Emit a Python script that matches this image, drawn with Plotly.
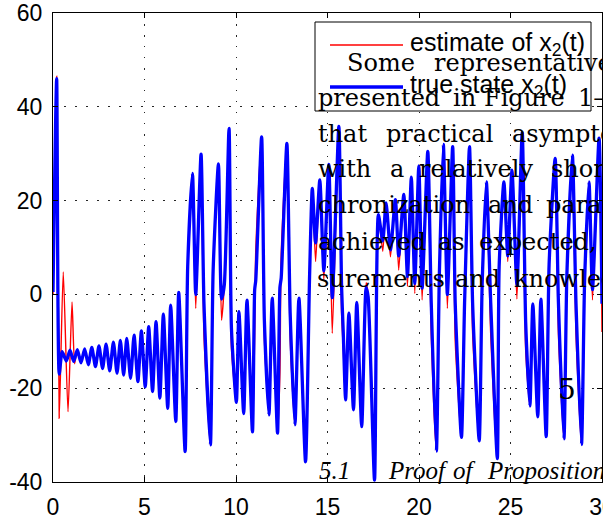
import plotly.graph_objects as go

# ---------------- data ----------------
blue_t = [0.00, 0.20, 0.34, 0.50, 0.73, 0.93, 1.13, 1.33, 1.53, 1.73, 1.93, 2.12, 2.32, 2.51, 2.71,
          2.90, 3.10, 3.30, 3.50, 3.68, 3.86, 4.03, 4.24, 4.43, 4.64, 4.83, 5.04, 5.23, 5.44, 5.63,
          5.84, 6.03, 6.27, 6.43, 6.71, 6.87, 7.22, 7.36, 7.62, 7.80, 8.09, 8.25, 8.60, 8.75, 9.04,
          9.21, 9.36, 9.62, 9.75, 10.02, 10.16, 10.42, 10.60, 10.90, 11.02, 11.08, 11.40, 11.55,
          11.80, 11.98, 12.27, 12.40, 12.47, 12.78, 12.96, 13.22, 13.44, 13.80, 14.02, 14.17, 14.35,
          14.58, 14.80, 15.07, 15.26, 15.62, 15.77, 15.86, 15.99, 16.17, 16.42, 16.60, 16.87, 17.11,
          17.22, 17.57, 17.78, 18.02, 18.20, 18.44, 18.71, 18.89, 19.17, 19.37, 19.58, 19.77, 19.99,
          20.17, 20.48, 20.67, 20.95, 21.11, 21.33, 21.55, 21.84, 21.98, 22.32, 22.49, 22.76, 22.93,
          23.29, 23.45, 23.68, 23.92, 24.28, 24.38, 24.64, 24.85, 25.08, 25.35, 25.64, 25.83, 26.06,
          26.22, 26.49, 26.66, 26.95, 27.11, 27.44, 27.62, 27.92, 28.08, 28.38, 28.58, 28.88, 29.05,
          29.29, 29.48, 29.84, 30.00]
blue_v = [0.5, 46.0, -17.0, -12.2, -14.2, -11.9, -14.3, -11.8, -14.6, -11.6, -15.0, -11.3, -15.4, -11.0, -15.8,
          -10.6, -16.3, -10.2, -16.8, -9.8, -17.2, -9.4, -17.9, -8.7, -18.6, -7.8, -19.7, -6.9, -20.7, -5.8,
          -22.1, -4.2, -24.3, -2.3, -27.1, 0.4, -33.5, 5.9, 25.8, 0.0, 29.9, -2.0, -32.1, 5.1, 27.8,
          -1.0, 2.0, 35.4, -7.2, -23.0, -3.7, -25.4, -1.2, -29.3, 1.0, 3.0, 33.6, -5.5,
          -25.7, -0.8, -29.6, 1.5, 3.5, 32.2, -4.0, -27.8, -0.8, -35.7, 3.8, 22.6, 11.0,
          24.4, 5.0, 27.7, -0.7, 35.8, 1.6, -8.0, -22.5, -4.0, -24.6, -1.7, -28.2, 1.5,
          -0.5, -39.6, 17.0, 11.4, 19.5, 9.5, 20.2, 8.2, 21.3, 3.8, 25.0, 2.3, 27.4,
          1.3, 30.5, -1.9, -33.4, 3.8, 32.0, 0.0, 31.5, -1.9, -30.5, -1.9, 31.5, -1.9,
          -31.2, 2.0, 24.0, -1.9, -35.0, 5.9, 24.0, 8.2, 26.5, 2.0, 34.5, -6.0, -23.8,
          -2.0, -26.1, -1.0, -30.3, 6.4, 29.0, -1.9, -30.8, 4.0, 29.7, -2.0, -32.0, 3.0,
          24.0, 1.0, 33.3, -2.0]

red_t = [0.00, 0.20, 0.34, 0.56, 0.82, 1.04, 1.18, 1.33, 1.53, 1.73, 1.93, 2.12, 2.32, 2.51, 2.71,
         2.90, 3.10, 3.30, 3.50, 3.68, 3.86, 4.03, 4.24, 4.43, 4.64, 4.83, 5.04, 5.23, 5.44, 5.63,
         5.84, 6.03, 6.27, 6.43, 6.71, 6.87, 7.22, 7.36, 7.62, 7.80, 8.09, 8.25, 8.60, 8.75, 9.04,
         9.21, 9.36, 9.62, 9.75, 10.02, 10.16, 10.42, 10.60, 10.90, 11.02, 11.08, 11.40, 11.55,
         11.80, 11.98, 12.27, 12.40, 12.47, 12.78, 12.96, 13.22, 13.44, 13.80, 14.02, 14.17, 14.35,
         14.58, 14.80, 15.07, 15.26, 15.62, 15.77, 15.86, 15.99, 16.17, 16.42, 16.60, 16.87, 17.11,
         17.22, 17.57, 17.78, 18.02, 18.20, 18.44, 18.71, 18.89, 19.17, 19.37, 19.58, 19.77, 19.99,
         20.17, 20.48, 20.67, 20.95, 21.11, 21.33, 21.55, 21.84, 21.98, 22.32, 22.49, 22.76, 22.93,
         23.29, 23.45, 23.68, 23.92, 24.28, 24.38, 24.64, 24.85, 25.08, 25.35, 25.64, 25.83, 26.06,
         26.22, 26.49, 26.66, 26.95, 27.11, 27.44, 27.62, 27.92, 28.08, 28.38, 28.58, 28.88, 29.05,
         29.29, 29.48, 29.84, 30.00]
red_v = [0.0, 46.5, -26.4, 4.8, -25.0, -1.6, -14.8, -11.8, -14.6, -11.6, -15.0, -11.3, -15.4, -11.0, -15.8,
         -10.6, -16.3, -10.2, -16.8, -9.8, -17.2, -9.4, -17.9, -8.7, -18.6, -7.8, -19.7, -6.9, -20.7, -5.8,
         -22.1, -4.2, -24.3, -2.3, -27.1, 0.4, -33.5, 5.9, 25.8, -3.0, 29.9, -8.9, -32.1, 5.1, 27.8,
         -5.5, 2.0, 35.4, -11.4, -23.0, -3.7, -25.4, -1.2, -29.3, -8.7, 9.4, 33.6, -9.5,
         -25.7, -0.8, -29.6, -16.8, 8.5, 32.2, -9.5, -27.8, -0.8, -35.7, 3.8, 22.6, 7.0,
         24.4, 3.0, 27.7, -8.3, 35.8, -4.0, -11.5, -22.5, -4.0, -24.6, -1.7, -28.2, 2.5,
         0.0, -39.6, 17.0, 9.2, 19.5, 8.0, 20.2, 5.2, 21.3, 1.7, 25.0, 0.2, 27.4,
         -1.2, 30.5, -8.7, -33.4, 3.8, 32.0, -3.0, 31.5, -10.0, -30.5, -1.9, 31.5, -8.3,
         -31.2, 2.0, 24.0, -8.7, -35.0, 5.9, 24.0, 7.0, 26.5, -1.0, 34.5, -12.0, -23.8,
         -2.0, -26.1, -1.0, -30.3, 6.4, 29.0, -8.7, -30.8, 4.0, 29.7, -8.7, -32.0, 3.0,
         24.0, -1.2, 33.3, -8.0]

x_ticks = [0, 5, 10, 15, 20, 25, 30]
x_tick_labels = ["0", "5", "10", "15", "20", "25", "30"]
y_ticks = [-40, -20, 0, 20, 40, 60]
y_tick_labels = ["-40", "-20", "0", "20", "40", "60"]

legend_labels = ["estimate of x<sub>2</sub>(t)", "true state x<sub>2</sub>(t)"]
series_colors = ["#ff0000", "#0000ff"]
series_widths = [1.4, 3.3]

# page text that sits over the figure: (word, left px, baseline px)
page_words = [
    ("Some", 346, 71), ("representative", 433, 71),
    ("presented", 317, 106), ("in", 452, 106), ("Figure", 483, 106), ("1–", 577, 106),
    ("that", 317, 142), ("practical", 385, 142), ("asymptotic", 511, 142),
    ("with", 317, 177), ("a", 389, 177), ("relatively", 418, 177), ("short", 550, 177),
    ("chronization", 317, 213), ("and", 487, 213), ("parameter", 545, 213),
    ("achieved", 317, 250), ("as", 437, 250), ("expected,", 478, 250),
    ("surements", 316, 287), ("and", 454, 287), ("knowledge", 513, 287),
]
section_number = ("5", 557, 396)
italic_words = [("5.1", 318, 478), ("Proof", 387, 478), ("of", 452, 478), ("Proposition", 486, 478)]

# ---------------- geometry ----------------
W, H = 603, 521
ML, MR, MT, MB = 53, 1, 13, 39
PW = W - ML - MR
PH = H - MT - MB


def fx(px):
    return (px - ML) / PW


def fy(py):
    return (H - MB - py) / PH


fig = go.Figure()
fig.add_trace(go.Scatter(x=red_t, y=red_v, mode="lines", name="estimate of x2(t)",
                         line=dict(color=series_colors[0], width=series_widths[0],
                                   shape="spline", smoothing=0.6),
                         showlegend=False))
fig.add_trace(go.Scatter(x=blue_t, y=blue_v, mode="lines", name="true state x2(t)",
                         line=dict(color=series_colors[1], width=series_widths[1],
                                   shape="spline", smoothing=0.6),
                         showlegend=False))

axis_common = dict(
    showline=True, linecolor="black", linewidth=1, mirror="ticks",
    ticks="inside", ticklen=5, tickwidth=1, tickcolor="black",
    showgrid=True, gridcolor="#262626", gridwidth=1, griddash="1.5px,9.5px",
    zeroline=False, ticklabeloverflow="allow", automargin=False,
    tickfont=dict(family="Liberation Sans, Arial, sans-serif", size=23, color="black"),
)

fig.update_xaxes(range=[0, 30], tickmode="array", tickvals=x_ticks, ticktext=x_tick_labels,
                 ticklabelstandoff=4, **axis_common)
fig.update_yaxes(range=[-40, 60], tickmode="array", tickvals=y_ticks, ticktext=y_tick_labels,
                 ticklabelstandoff=5, **axis_common)

shapes = []
annotations = []

# legend (MATLAB style box)
shapes.append(dict(type="rect", xref="paper", yref="paper", layer="above",
                   x0=fx(315), x1=fx(591), y0=fy(111), y1=fy(22),
                   line=dict(color="black", width=1), fillcolor="white"))
legend_rows = [45, 87]
for lab, col, wid, row in zip(legend_labels, series_colors, series_widths, legend_rows):
    shapes.append(dict(type="line", xref="paper", yref="paper", layer="above",
                       x0=fx(330), x1=fx(403), y0=fy(row), y1=fy(row),
                       line=dict(color=col, width=wid)))
    annotations.append(dict(text=lab, xref="paper", yref="paper", showarrow=False,
                            x=fx(409), y=fy(row - 1), xanchor="left", yanchor="middle",
                            borderpad=0,
                            font=dict(family="Liberation Sans, Arial, sans-serif", size=25,
                                      color="black")))

serif = "DejaVu Serif, Liberation Serif, serif"
for word, lx, base in page_words:
    annotations.append(dict(text=word, xref="paper", yref="paper", showarrow=False,
                            x=fx(lx), y=fy(base - 8), xanchor="left", yanchor="middle",
                            borderpad=0,
                            font=dict(family=serif, size=24, color="black")))
annotations.append(dict(text=section_number[0], xref="paper", yref="paper", showarrow=False,
                        x=fx(section_number[1]), y=fy(section_number[2] - 7),
                        xanchor="left", yanchor="middle", borderpad=0,
                        font=dict(family=serif, size=28, color="black")))
for word, lx, base in italic_words:
    annotations.append(dict(text="<i>" + word + "</i>", xref="paper", yref="paper",
                            showarrow=False, x=fx(lx), y=fy(base - 8),
                            xanchor="left", yanchor="middle", borderpad=0,
                            font=dict(family="Liberation Serif, serif", size=25, color="black")))

fig.update_layout(
    width=W, height=H,
    margin=dict(l=ML, r=MR, t=MT, b=MB, pad=0, autoexpand=False),
    paper_bgcolor="white", plot_bgcolor="white",
    shapes=shapes, annotations=annotations,
    showlegend=False,
)

fig.write_html("out.html", config={"displayModeBar": False},
               post_script="document.body.style.margin='0px';")
